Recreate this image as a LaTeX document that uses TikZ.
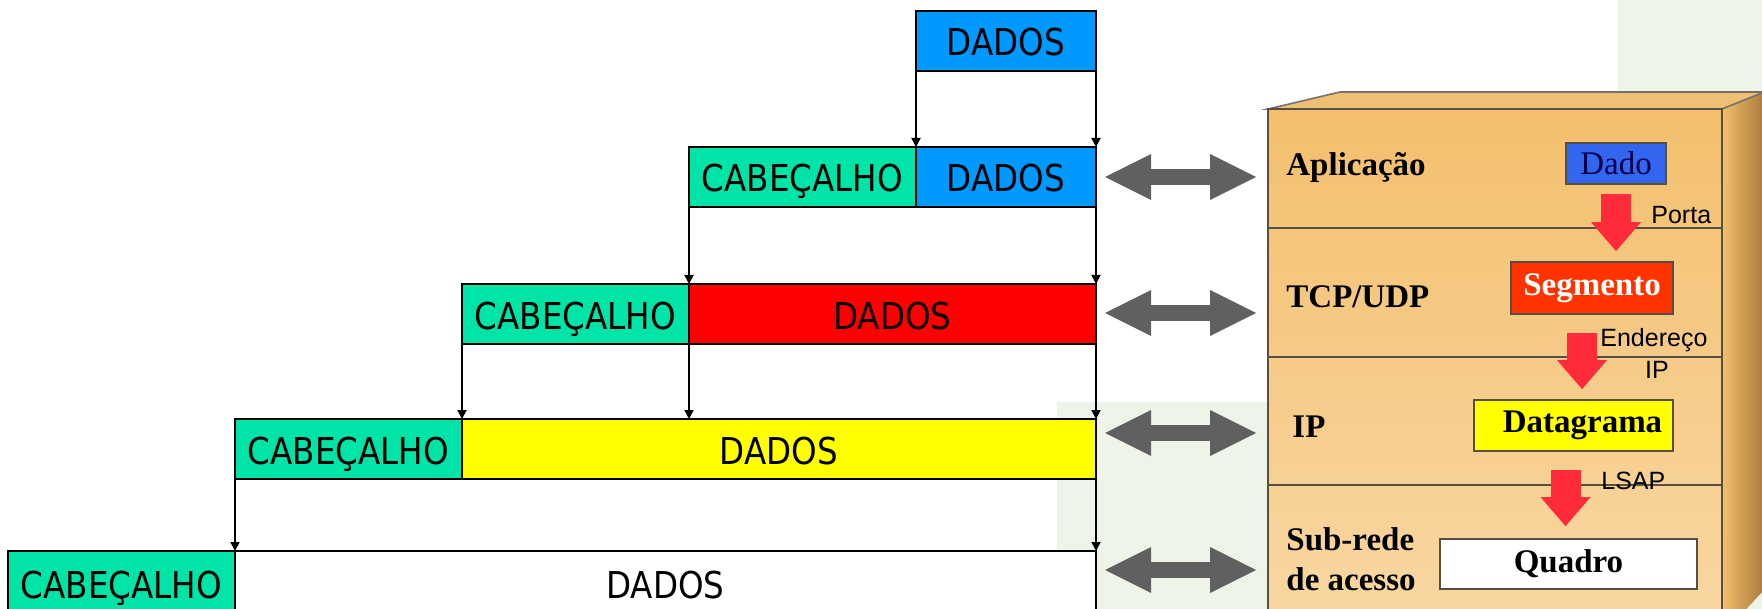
\documentclass[tikz,border=0pt]{standalone}
\usepackage{fontspec}
\newfontfamily\tahomafont{DejaVu Sans}[FakeStretch=0.88]
\newfontfamily\timesfont{Liberation Serif}
\newfontfamily\arialfont{Liberation Sans}
\usetikzlibrary{arrows.meta, positioning}
\definecolor{my_green}{RGB}{0, 228, 168}
\definecolor{my_blue}{RGB}{0, 153, 255}
\definecolor{my_red}{RGB}{255, 0, 0}
\definecolor{my_yellow}{RGB}{255, 255, 0}
\definecolor{my_gray}{RGB}{96, 96, 96}
\definecolor{my_bg}{RGB}{238, 245, 232}
\definecolor{my_tan_top}{RGB}{243, 191, 110}
\definecolor{my_tan_bot}{RGB}{249, 216, 164}
\definecolor{my_top}{RGB}{238, 192, 118}
\definecolor{my_side_l}{RGB}{242, 192, 108}
\definecolor{my_side_r}{RGB}{170, 122, 60}
\definecolor{my_edge}{RGB}{88, 78, 66}
\definecolor{my_dado}{RGB}{51, 102, 238}
\definecolor{my_seg}{RGB}{255, 51, 0}
\definecolor{my_arrowred}{RGB}{255, 42, 58}
\tikzset {
  hdr/.style = {draw, line width=1.2pt, fill=my_green, minimum width=113.5pt, minimum height=30pt, inner sep=0pt, outer sep=0pt, text height=15pt, text depth=0pt, font=\tahomafont\fontsize{18.5}{22}\selectfont},
  payload/.style = {hdr, fill=#1},
  line/.style = {->, line width=0.9pt, color=black, >={Triangle[length=4.5pt, width=4.5pt]}},
  twoway/.style = {<->, line width=8pt, color=my_gray, >={Triangle[length=23pt, width=23pt, line width=0pt]}},
  redarrow/.style = {->, line width=15pt, color=my_arrowred, >={Triangle[length=14.5pt, width=25pt, line width=0pt]}},
  layer/.style = {anchor=west, inner sep=0pt, align=left, font=\timesfont\bfseries\fontsize{16.5}{20}\selectfont},
  pdu/.style = {draw=my_edge, line width=0.9pt, inner sep=0pt, font=\timesfont\fontsize{16.5}{18}\selectfont},
  boldpdu/.style = {pdu, font=\timesfont\bfseries\fontsize{16.5}{18}\selectfont},
  port/.style = {inner sep=0pt, font=\arialfont\fontsize{12.5}{14}\selectfont}
}

\begin{document}
\begin{tikzpicture}[x=0.5pt, y=-0.5pt]
  \useasboundingbox (0,0) rectangle (1762,609);
  \clip (0,0) rectangle (1762,609);

  % background
  \fill[my_bg] (1057,402) rectangle (1762,609);
  \fill[my_bg] (1618,0) rectangle (1762,402);

  % encapsulation
  \node[payload=my_blue, minimum width=90pt, anchor=north west] (dados1) at (916,11) {DADOS};
  \node[payload=my_blue, minimum width=90pt, anchor=north west] (dados2) at (916,147) {DADOS};
  \node[hdr, left=0pt of dados2] (cab2) {CABEÇALHO};
  \node[payload=my_red, minimum width=203.5pt, anchor=north west] (dados3) at (689,284) {DADOS};
  \node[hdr, left=0pt of dados3] (cab3) {CABEÇALHO};
  \node[payload=my_yellow, minimum width=317pt, anchor=north west] (dados4) at (462,419) {DADOS};
  \node[hdr, left=0pt of dados4] (cab4) {CABEÇALHO};
  \node[payload=white, minimum width=430.5pt, minimum height=32pt, anchor=north west] (dados5) at (235,551) {DADOS};
  \node[hdr, minimum height=32pt, left=0pt of dados5] (cab5) {CABEÇALHO};

  \draw[line] (dados1.south west) -- (dados2.north west);
  \draw[line] (dados1.south east) -- (dados2.north east);
  \draw[line] (cab2.south west) -- (dados3.north west);
  \draw[line] (dados2.south east) -- (dados3.north east);
  \draw[line] (cab3.south west) -- (dados4.north west);
  \draw[line] (dados3.south west) -- (dados3.south west |- dados4.north);
  \draw[line] (dados3.south east) -- (dados4.north east);
  \draw[line] (cab4.south west) -- (dados5.north west);
  \draw[line] (dados4.south east) -- (dados5.north east);

  \foreach \y [count=\i] in {177,313,433,570} {
    \coordinate (gl\i) at (1105,\y);
    \coordinate (gr\i) at (1256,\y);
    \draw[twoway] (gl\i) -- (gr\i);
  }

  % layer stack
  \shade[left color=my_side_l, right color=my_side_r] (1722,109) -- (1764,91) -- (1764,590) -- (1722,635) -- cycle;
  \filldraw[fill=my_top, draw=my_edge!80, line width=0.8pt] (1268,109) -- (1340,92) -- (1764,92) -- (1722,109) -- cycle;
  \shade[top color=my_tan_top, bottom color=my_tan_bot] (1268,109) rectangle (1722,640);
  \draw[my_edge, line width=1.2pt] (1268,640) -- (1268,109) -- (1722,109) -- (1722,640);
  \draw[my_edge, line width=1pt] (1268,228) -- (1722,228);
  \draw[my_edge, line width=1pt] (1268,357) -- (1722,357);
  \draw[my_edge, line width=1pt] (1268,485) -- (1722,485);

  \node[layer] (aplic) at (1286,168) {Aplicação};
  \node[layer] (tcp) at (1286,297) {TCP/UDP};
  \node[layer] (ip) at (1292,427) {IP};
  \node[layer] (subrede) at (1286,559) {Sub-rede\\de acesso};

  \node[pdu, fill=my_dado, text=black!70!blue, minimum width=50pt, minimum height=20.5pt] (dado) at (1616,163.5) {Dado};
  \node[boldpdu, fill=my_seg, text=white, minimum width=81pt, minimum height=26pt] (segmento) at (1592,288) {Segmento};
  \node[boldpdu, fill=my_yellow, minimum width=99.5pt, minimum height=25.5pt] (datagrama) at (1573.5,425.5) {\hspace*{9pt}Datagrama};
  \node[boldpdu, fill=white, minimum width=128.5pt, minimum height=25pt] (quadro) at (1568.5,564) {Quadro};

  \draw[redarrow, shorten <=4.5pt, shorten >=5pt] (dado.south) -- (dado.south |- segmento.north);
  \draw[redarrow, shorten <=9pt, shorten >=5pt] ([xshift=-5pt]segmento.south) -- ([xshift=-5pt]segmento.south |- datagrama.north);
  \draw[redarrow, shorten <=9pt, shorten >=6pt] ([xshift=-4pt]datagrama.south) -- ([xshift=-4pt]datagrama.south |- quadro.north);

  \node[port, anchor=west] (porta) at (1651,215) {Porta};
  \node[port, anchor=west] (endereco) at (1600,340) {Endereço};
  \node[port] (ipaddr) at (1657,370) {IP};
  \node[port, anchor=west] (lsap) at (1601,481) {LSAP};

\end{tikzpicture}
\end{document}
